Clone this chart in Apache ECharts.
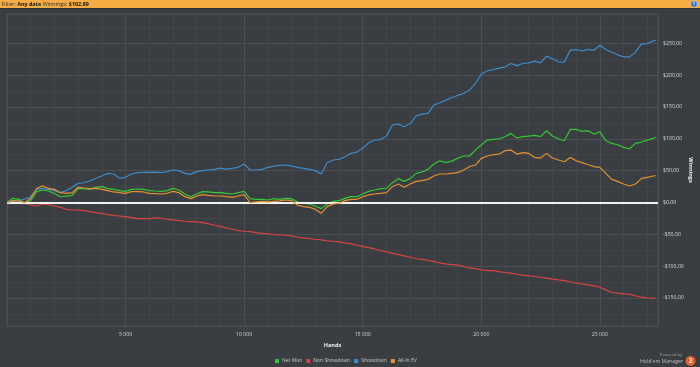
<!DOCTYPE html>
<html>
<head>
<meta charset="utf-8">
<script src="https://cdn.jsdelivr.net/npm/echarts@6/dist/echarts.min.js"></script>
<style>
html,body{margin:0;padding:0;background:#3a3d41;}
#c{width:700px;height:367px;}
</style>
</head>
<body>
<div id="c"></div>
<script>
// x: hands played
const hands = [0,250,500,750,1000,1250,1500,1750,2000,2250,2500,2750,3000,3250,3500,3750,4000,4250,4500,
4750,5000,5250,5500,5750,6000,6250,6500,6750,7000,7250,7500,7750,8000,8250,8500,8750,9000,
9250,9500,9750,10000,10250,10500,10750,11000,11250,11500,11750,12000,12250,12500,12750,13000,13250,13500,13750,
14000,14250,14500,14750,15000,15250,15500,15750,16000,16250,16500,16750,17000,17250,17500,17750,18000,18250,
18500,18750,19000,19250,19500,19750,20000,20250,20500,20750,21000,21250,21500,21750,22000,22250,22500,22750,23000,
23250,23500,23750,24000,24250,24500,24750,25000,25250,25500,25750,26000,26250,26500,26750,27000,27250,27350];

const netWon = [0,6.5,5,-1,3,17,19.6,18,14,9,10,11,22,21.7,20.6,23.8,24.8,21.7,20.6,
18.6,17.5,20.6,21.2,20.6,18.6,18,17.5,18.6,22.2,19.6,13.3,9.1,13.3,17,16.5,15.4,16,
14.4,13.3,15.4,17.5,6,5,5,3.9,6,5,6.5,6,0.8,-1.3,-2.4,-5.5,-9.7,-2.4,1.8,
2.9,6.5,9.1,9.1,13.3,17.5,19.6,21.7,22.2,31.1,37.4,33.2,37.4,45.7,47.8,52,60.4,65.6,
62.5,65,69.3,73,73,82.3,90.2,98,99,100,103.3,108.5,101.2,103.3,104.3,105.3,103.3,112.7,104.3,
100.1,97,114.7,114.7,111.6,112.7,107.4,111,97,92.8,90.7,86.5,84.4,92.8,94.9,98,100.6,102.9];

const nonShowdown = [0,0,-1,-1.3,-3.9,-5.5,-2.4,-3.4,-5.5,-7.6,-10.7,-11.8,-11.8,-12.8,-14.4,-16,-17,-19,-20.6,
-21.2,-22.2,-23.8,-25.4,-25.4,-25.4,-24.3,-24.8,-26.4,-27.4,-28.5,-29.5,-30,-30.6,-31.6,-33.7,-35.8,-37.9,
-40,-42,-44.2,-45.2,-45.7,-47.3,-48.4,-49.4,-50.4,-51,-51.5,-52.5,-54.6,-55.7,-56.7,-57.8,-58.8,-60.4,-60.9,
-62,-63.5,-65,-67,-69,-71,-73,-75.5,-77.5,-80,-82,-84,-86,-88,-89.5,-91,-93,-95,
-96.5,-97.5,-98.5,-100.6,-102.7,-103.8,-105.9,-106.9,-106.9,-108.5,-110,-111,-112.7,-114.2,-115.3,-116.3,-117.4,-118.9,-120.5,
-121.5,-122.6,-124.7,-126.8,-127.8,-129.4,-131,-133.1,-137.3,-141.4,-142.5,-143.5,-144,-146.7,-148.8,-149.8,-150.3,-150.8];

const showdown = [0,2,3,5.5,9,20.6,22,20.6,18.6,15.4,18.6,23.8,30,31,34,38,41.6,45.7,44.7,
37.9,39.5,44.7,46.8,47.3,47.3,47.8,46.8,48.4,51,50,45.7,44.2,48.4,50,51,52,54,
52.5,53.6,55.2,60.4,51,51,52,55.2,57.2,58.3,58.8,57.2,55.2,53.6,52,50,44.7,62.5,66.7,
67.7,71.9,77.1,79.2,85,93.8,98,99,104.3,121.5,123,119,124,135.7,138.8,139.8,152.9,156.6,
160.8,164.4,168.1,171.2,176.5,186.9,201.5,206.8,208.8,211,213,218.3,215,218.3,219.3,222,219.3,229.8,225.6,
220.9,220.4,239.2,240.2,238.1,240.2,239.2,247,240.2,236,231.9,228.7,228.7,236,248.6,249.6,253.8,254.9];

const allInEV = [0,3,2,0,6.5,22,26,22,20.6,15.4,14.4,15.4,23.8,22.7,21.7,22,20.6,18.6,16.5,
15.4,14.4,17,17,16.5,14.4,13.9,13.3,14.4,17.5,15.4,9.1,6,10.2,12.3,11.2,10.2,10.2,
9.1,8.1,10.2,12.3,-0.3,0.8,1.8,0.8,1.8,2.4,3.9,2.9,-4.4,-6.5,-7.6,-10.7,-17,-6.5,-2.4,
-1.3,2.9,5,5,9.1,11.8,13.3,14.4,15.4,24.8,29,23.8,29,33.2,34.2,36.3,41.6,44.7,
44.7,45.7,46.8,51,56.2,58.8,69.3,73,75,76,81.3,82.3,76,78.2,77.1,70.8,69.8,77.1,69.8,
66.7,64,70.8,65.6,62.5,59.3,56.2,55.2,45.7,36.3,33.2,29,25.9,29,37.4,39.5,41.6,42.1];

const seriesNames = ['Net Won','Non Showdown','Showdown','All-In EV'];
const seriesColors = ['#33cc33','#dd4444','#3d8fd0','#e8922e'];
const seriesValues = [netWon, nonShowdown, showdown, allInEV];
const headerParts = [['Filter:',false],['Any date',true],['Winnings:',false],['$102,89',true]];

const FONT = 'Open Sans';
const chart = echarts.init(document.getElementById('c'));

function pairs(vals){ return hands.map((h,i)=>[h, vals[i]]); }

const series = seriesNames.map((n,k)=>({
  name:n, type:'line', data:pairs(seriesValues[k]),
  showSymbol:false, symbol:'none',
  lineStyle:{width:1.2, color:seriesColors[k]},
  itemStyle:{color:seriesColors[k]},
  animation:false, z:3+k
}));
series[0].markLine = {
  silent:true, symbol:'none', label:{show:false},
  lineStyle:{color:'#f2f2f2', width:2, type:'solid'},
  data:[{yAxis:0}], animation:false
};

// header text laid out piece by piece
const mctx = document.createElement('canvas').getContext('2d');
const hdrEls = [];
let hx = 1.5;
headerParts.forEach(([t,b])=>{
  const f = (b?'bold ':'')+'5.4px '+FONT;
  mctx.font = f;
  hdrEls.push({type:'text', z:5, x:hx, y:4.3, style:{text:t, fill:b?'#111':'#2b2b2b', font:f, align:'left', verticalAlign:'middle'}});
  hx += mctx.measureText(t).width + 1.6;
});

chart.setOption({
  backgroundColor:'#3a3d41',
  animation:false,
  textStyle:{fontFamily:FONT},
  graphic:[
    {type:'rect', z:-1, shape:{x:0,y:0,width:700,height:8}, style:{fill:'#f4ac44'}},
    {type:'rect', z:-1, shape:{x:0,y:8,width:700,height:1}, style:{fill:'#2e3034'}},
    ...hdrEls,
    {type:'circle', shape:{cx:694,cy:4,r:3.2}, style:{fill:'#2f6fc8', stroke:'#cfe0ff', lineWidth:0.5}},
    {type:'text', x:694, y:4, style:{text:'i',fill:'#fff',font:'bold 5px '+FONT,align:'center',verticalAlign:'middle'}},
    {type:'text', x:682, y:355, style:{text:'Powered by',fill:'#a8a8a8',font:'4px '+FONT,align:'right',verticalAlign:'middle'}},
    {type:'text', x:683, y:362, style:{text:"Hold'em Manager",fill:'#bdbdbd',font:'5.2px '+FONT,align:'right',verticalAlign:'middle'}},
    {type:'circle', shape:{cx:690.5,cy:361,r:5}, style:{fill:'#e2622a'}},
    {type:'text', x:690.5, y:361.5, style:{text:'2',fill:'#fff',font:'bold 6.5px '+FONT,align:'center',verticalAlign:'middle'}}
  ],
  legend:{
    data:seriesNames, top:358.5, left:275, icon:'rect', itemWidth:4, itemHeight:4, itemGap:4, padding:0,
    textStyle:{color:'#c8c8c8', fontSize:5, fontFamily:FONT, padding:[0,0,0,-2]}
  },
  grid:{left:7, right:42, top:14, bottom:41, show:true, borderColor:'#4d5055', borderWidth:1,
    backgroundColor:'#3a3d41', outerBoundsMode:'none', containLabel:false},
  xAxis:{
    type:'value', min:0, max:27450, interval:5000,
    name:'Hands', nameLocation:'middle', nameGap:16, nameMoveOverlap:false,
    nameTextStyle:{color:'#f0f0f0', fontWeight:'bold', fontSize:5.5, fontFamily:FONT},
    axisLine:{show:false}, axisTick:{show:false},
    axisLabel:{color:'#cfcfcf', fontSize:5.2, margin:6, showMinLabel:false, showMaxLabel:false, fontFamily:FONT,
      formatter:v=> (v%1000===0 && v>0 && v<27450) ? String(v).replace(/\B(?=(\d{3})+(?!\d))/g,' ') : ''},
    splitLine:{show:true, lineStyle:{color:'#4c4f54', width:1}},
    minorTick:{show:false, splitNumber:5},
    minorSplitLine:{show:true, lineStyle:{color:'#424549', width:1}}
  },
  yAxis:{
    type:'value', position:'right', min:-194, max:296, splitNumber:10,
    name:'Winnings', nameLocation:'middle', nameGap:30, nameRotate:-90, nameMoveOverlap:false,
    nameTextStyle:{color:'#f0f0f0', fontWeight:'bold', fontSize:5.5, fontFamily:FONT},
    axisLine:{show:false}, axisTick:{show:false},
    axisLabel:{color:'#d8d8d8', fontSize:5.2, margin:5, showMinLabel:false, showMaxLabel:false, fontFamily:FONT,
      formatter:v=> (v%50===0) ? ((v<0?'-':'')+'$'+Math.abs(v).toFixed(2).replace('.',',')) : ''},
    splitLine:{show:true, lineStyle:{color:'#4c4f54', width:1}},
    minorTick:{show:false, splitNumber:2},
    minorSplitLine:{show:true, lineStyle:{color:'#424549', width:1}}
  },
  series:series
});
</script>
</body>
</html>
